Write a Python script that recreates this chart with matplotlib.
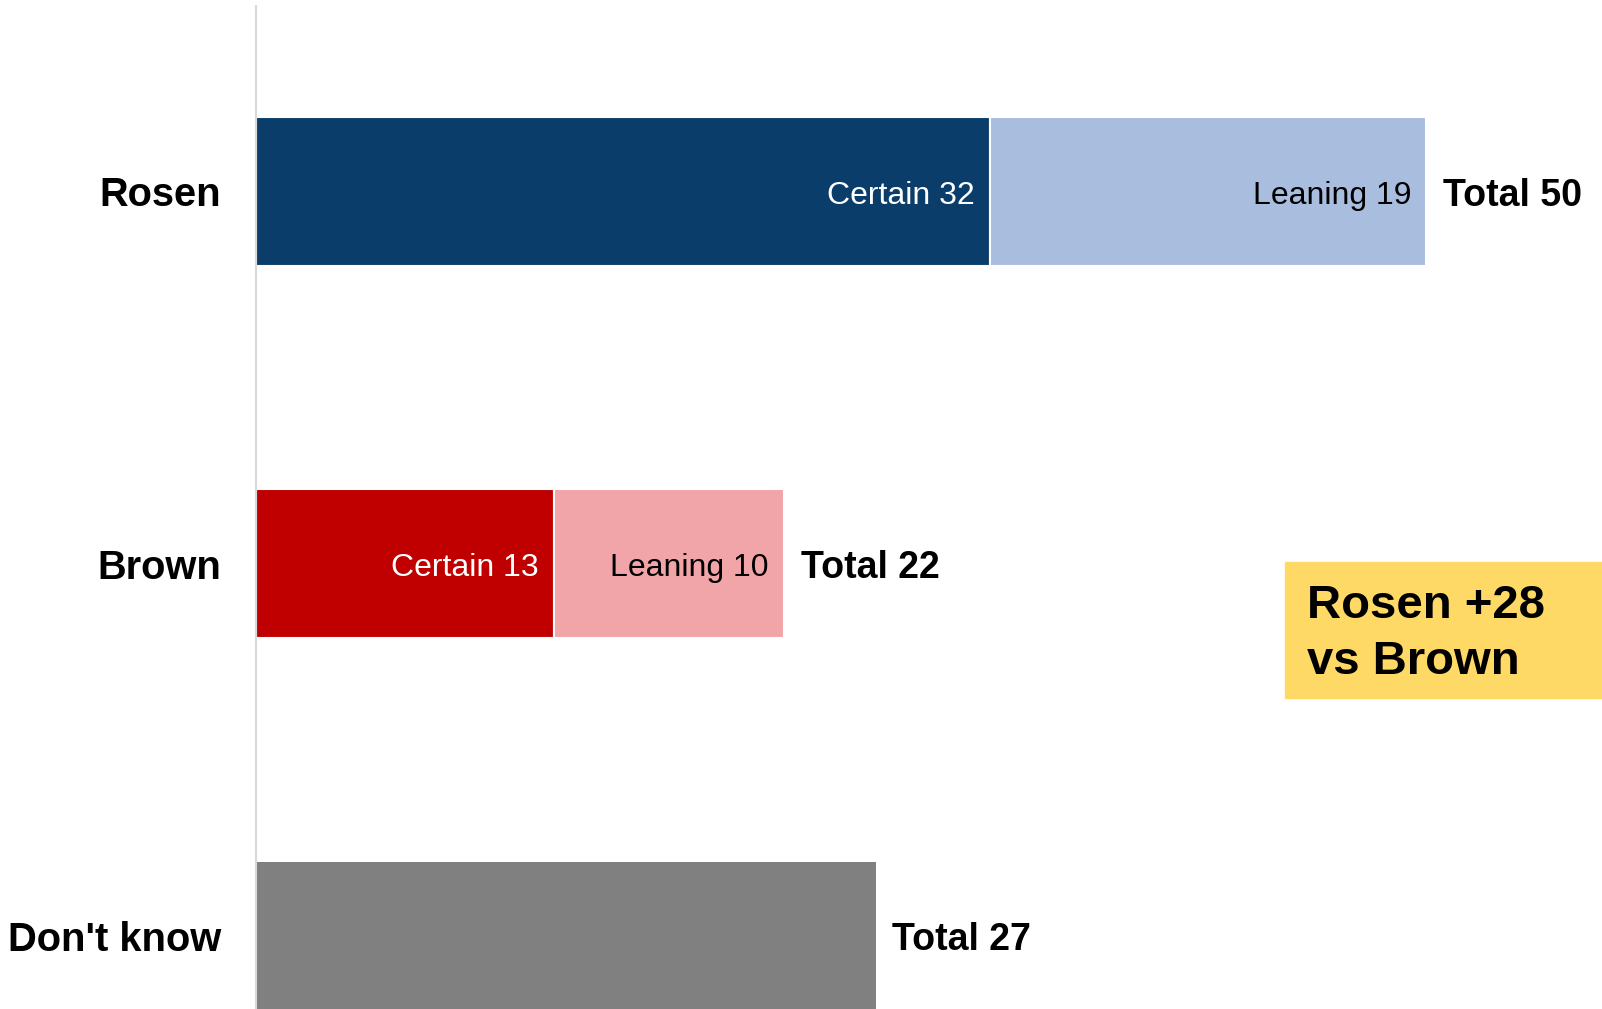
import matplotlib.pyplot as plt
from matplotlib.patches import Rectangle

plt.rcParams['font.family'] = ['Liberation Sans', 'DejaVu Sans']

# ================= Data =================
candidates = ["Rosen", "Brown", "Don't know"]
certain = [32, 13, None]
leaning = [19, 10, None]
totals = [50, 22, 27]
dont_know = 27

certain_colors = ['#0B3D6B', '#C00000']
leaning_colors = ['#A9BDDF', '#F2A5A8']
dk_color = '#808080'

# ================= Figure =================
fig = plt.figure(figsize=(16.02, 10.09), dpi=100)
ax = fig.add_axes([256 / 1602, 0, 1 - 256 / 1602, 1 - 6 / 1009])

y = range(len(candidates))
h = 0.40

for i in range(2):
    ax.barh(i, certain[i], height=h, color=certain_colors[i],
            edgecolor='white', linewidth=1.5)
    ax.barh(i, leaning[i], left=certain[i], height=h, color=leaning_colors[i],
            edgecolor='white', linewidth=1.5)
    ax.annotate(f"Certain {certain[i]}", (certain[i], i), xytext=(-11, -3),
                textcoords='offset points', ha='right', va='center',
                color='white', fontsize=23)
    ax.annotate(f"Leaning {leaning[i]}", (certain[i] + leaning[i], i),
                xytext=(-11, -3), textcoords='offset points', ha='right',
                va='center', color='black', fontsize=23)

ax.barh(2, dont_know, height=h, color=dk_color, edgecolor='none')

ends = [certain[0] + leaning[0], certain[1] + leaning[1], dont_know]
for i in range(3):
    ax.annotate(f"Total {totals[i]}", (ends[i], i), xytext=(12, -3),
                textcoords='offset points', ha='left', va='center',
                fontsize=27, fontweight='bold')

ax.set_xlim(0, 58.65)
ax.set_ylim(2.196, -0.498)
ax.set_yticks(list(y))
ax.set_yticklabels(candidates, fontsize=28.7, fontweight='bold')
ax.tick_params(axis='y', length=0, pad=25)
ax.set_xticks([])
for s in ['top', 'right', 'bottom']:
    ax.spines[s].set_visible(False)
ax.spines['left'].set_color('#D9D9D9')
ax.spines['left'].set_linewidth(1.5)

# ================= Callout box =================
fig.patches.append(Rectangle((1285 / 1602, 1 - 698 / 1009), 317 / 1602, 136 / 1009,
                             transform=fig.transFigure, color='#FFD966', zorder=0))
fig.text(1307 / 1602, 1 - 634 / 1009, "Rosen +28\nvs Brown", fontsize=34,
         fontweight='bold', ha='left', va='center', linespacing=1.36)

plt.savefig('out.png')
